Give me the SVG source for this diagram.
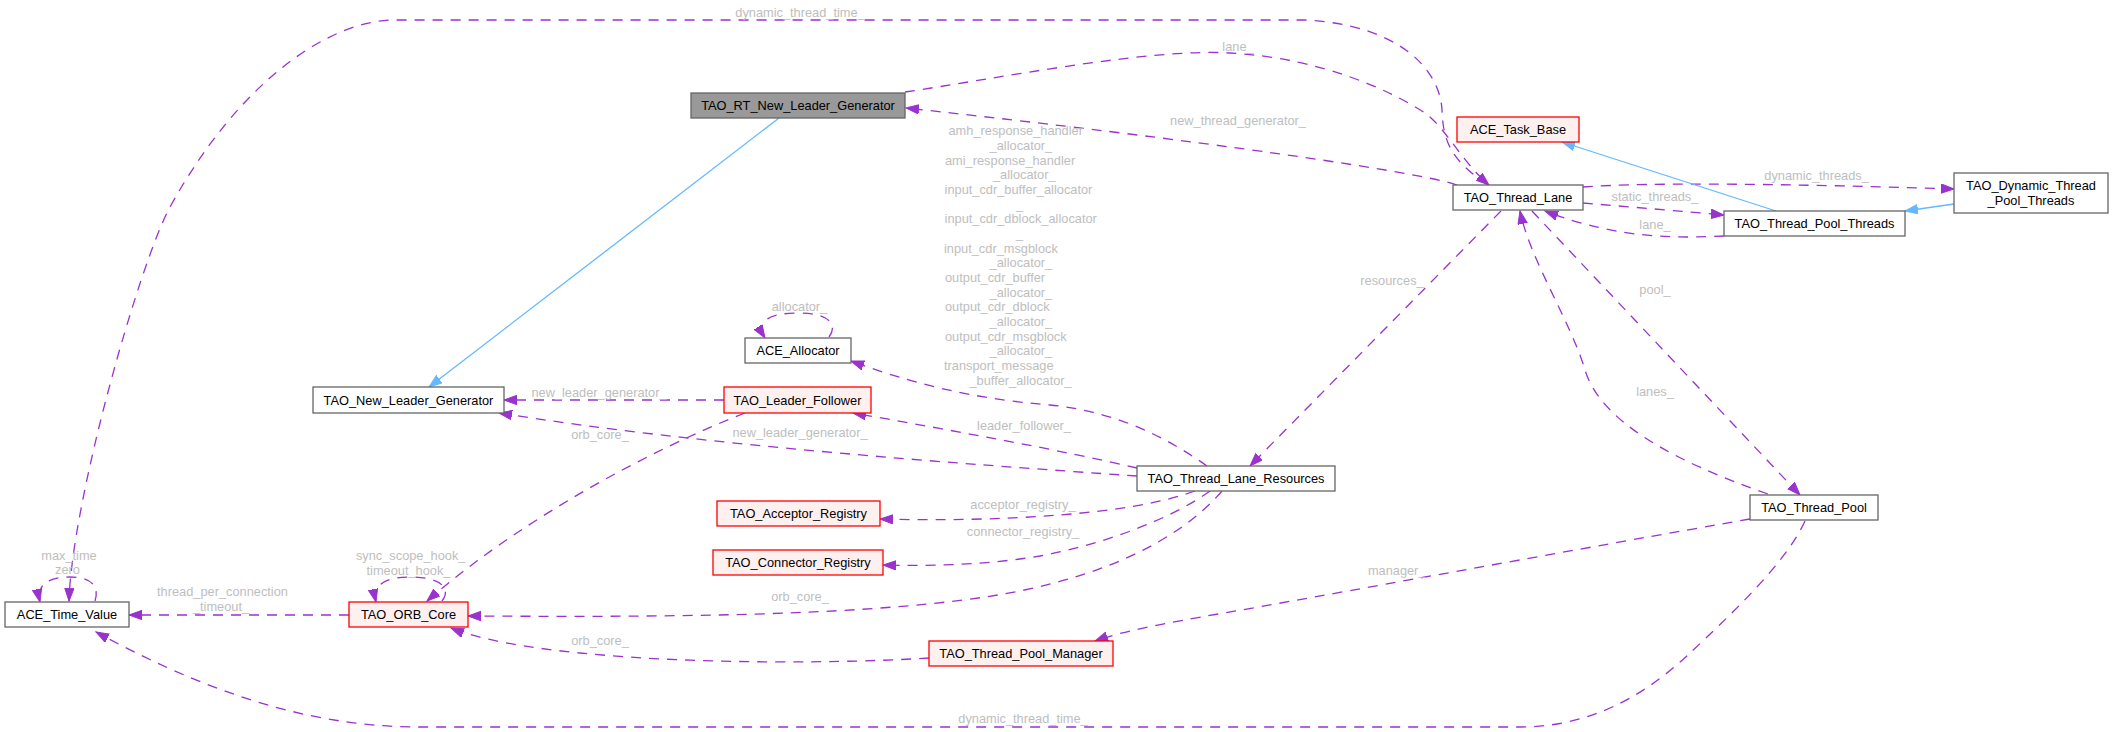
<svg xmlns="http://www.w3.org/2000/svg" width="2113" height="732" viewBox="0 0 2113 732">
<style>
.node rect{fill:#ffffff;stroke:#666666;stroke-width:1.3}
.node.red rect{fill:#fff0f0;stroke:#ff0000}
.node.gray rect{fill:#999999;stroke:#666666}
text{font-family:"Liberation Sans",Arial,Helvetica,sans-serif;font-size:12.8px}
.node text{fill:#000000;text-anchor:middle}
.lbl text{fill:#bebebe}
.lbl .c{text-anchor:middle}
.e{fill:none;stroke:#9a32cd;stroke-width:1.3;stroke-dasharray:10,8}
.b{fill:none;stroke:#63b8ff;stroke-width:1.3}
</style>
<defs>
<marker id="ap" markerUnits="userSpaceOnUse" markerWidth="15" markerHeight="11" refX="13" refY="5" orient="auto"><path d="M0,0.3 L13,5 L0,9.7 z" fill="#9a32cd" stroke="#9a32cd" stroke-width="1"/></marker>
<marker id="ab" markerUnits="userSpaceOnUse" markerWidth="15" markerHeight="11" refX="13" refY="5" orient="auto"><path d="M0,0.3 L13,5 L0,9.7 z" fill="#63b8ff" stroke="#63b8ff" stroke-width="1"/></marker>
</defs>
<rect width="2113" height="732" fill="#ffffff"/>
<g id="edges">
<path class="e" marker-end="url(#ap)" d="M1488,185 C1450,160 1443,140 1442,110 C1440,70 1400,25 1305,20 L395,20 C330,20 240,80 170,207 C140,262 72,500 69,601"/>
<path class="e" marker-end="url(#ap)" d="M905,92 C1000,78 1150,48 1230,53 C1320,58 1390,90 1425,113 C1445,127 1462,162 1489,185"/>
<path class="e" marker-end="url(#ap)" d="M1457,185 C1420,172 1200,140 906,108"/>
<path class="b" marker-end="url(#ab)" d="M779,118 L429,387"/>
<path class="e" marker-end="url(#ap)" d="M1583,187 C1650,182 1800,184 1954,189"/>
<path class="e" marker-end="url(#ap)" d="M1583,203 C1630,207 1680,211 1724,215"/>
<path class="e" marker-end="url(#ap)" d="M1724,236 C1680,238 1620,240 1545,211"/>
<path class="b" marker-end="url(#ab)" d="M1776,211 L1562,142"/>
<path class="b" marker-end="url(#ab)" d="M1954,204 L1905,211"/>
<path class="e" marker-end="url(#ap)" d="M1501,211 L1250,466"/>
<path class="e" marker-end="url(#ap)" d="M1532,211 L1800,495"/>
<path class="e" marker-end="url(#ap)" d="M1768,494 C1670,460 1600,420 1585,370 C1570,320 1530,260 1520,211"/>
<path class="e" marker-end="url(#ap)" d="M1207,466 C1170,440 1120,412 1050,405 C990,400 930,390 851,361"/>
<path class="e" marker-end="url(#ap)" d="M829,337 C838,325 830,313 798,313 C768,313 755,322 765,338"/>
<path class="e" marker-end="url(#ap)" d="M724,400 L504,400"/>
<path class="e" marker-end="url(#ap)" d="M745,413 C650,450 520,520 427,601"/>
<path class="e" marker-end="url(#ap)" d="M1137,468 C1060,450 950,430 853,413"/>
<path class="e" marker-end="url(#ap)" d="M1137,476 C950,463 700,445 499,413"/>
<path class="e" marker-end="url(#ap)" d="M1195,491 C1130,515 1000,522 880,519"/>
<path class="e" marker-end="url(#ap)" d="M1210,491 C1170,520 1100,545 1040,556 C980,566 920,566 883,565"/>
<path class="e" marker-end="url(#ap)" d="M1222,491 C1180,540 1100,580 985,597 C850,617 650,617 468,616"/>
<path class="e" marker-end="url(#ap)" d="M442,601 C452,588 440,577 410,577 C385,577 372,585 376,602"/>
<path class="e" marker-end="url(#ap)" d="M349,615 L129,615"/>
<path class="e" marker-end="url(#ap)" d="M95,601 C100,585 90,577 70,577 C48,577 36,585 40,602"/>
<path class="e" marker-end="url(#ap)" d="M929,658 C850,663 700,665 580,653 C530,648 480,640 451,628"/>
<path class="e" marker-end="url(#ap)" d="M1750,519 C1600,545 1300,600 1224,613 C1160,624 1120,632 1095,641"/>
<path class="e" marker-end="url(#ap)" d="M1805,521 C1785,565 1725,620 1690,653 C1655,686 1600,727 1520,727 L420,727 C330,727 230,705 96,632"/>
</g>
<g id="labels" class="lbl">
<text class="c" x="800" y="16.5">dynamic_thread_time_</text>
<text class="c" x="1238" y="51">lane_</text>
<text class="c" x="1238" y="124.5">new_thread_generator_</text>
<text x="948.5" y="135.2">amh_response_handler</text>
<text x="989.6" y="149.8">_allocator_</text>
<text x="945" y="164.5">ami_response_handler</text>
<text x="993" y="179.2">_allocator_</text>
<text x="944.6" y="193.8">input_cdr_buffer_allocator</text>
<text x="1016" y="208.5">_</text>
<text x="944.6" y="223.2">input_cdr_dblock_allocator</text>
<text x="1016" y="237.8">_</text>
<text x="944" y="252.5">input_cdr_msgblock</text>
<text x="989.6" y="267.2">_allocator_</text>
<text x="945" y="281.8">output_cdr_buffer</text>
<text x="989.6" y="296.5">_allocator_</text>
<text x="945" y="311.2">output_cdr_dblock</text>
<text x="989.6" y="325.8">_allocator_</text>
<text x="945" y="340.5">output_cdr_msgblock</text>
<text x="989.6" y="355.2">_allocator_</text>
<text x="944" y="369.8">transport_message</text>
<text x="969.5" y="384.5">_buffer_allocator_</text>
<text class="c" x="1816.6" y="180.2">dynamic_threads_</text>
<text class="c" x="1655" y="201.2">static_threads_</text>
<text class="c" x="1655" y="228.5">lane_</text>
<text class="c" x="1392" y="284.5">resources_</text>
<text class="c" x="1655" y="293.8">pool_</text>
<text class="c" x="1655" y="396.2">lanes_</text>
<text class="c" x="799.5" y="310.5">allocator_</text>
<text class="c" x="599" y="396.5">new_leader_generator_</text>
<text class="c" x="600" y="438.5">orb_core_</text>
<text class="c" x="800" y="436.8">new_leader_generator_</text>
<text class="c" x="1024" y="429.5">leader_follower_</text>
<text class="c" x="1023" y="508.5">acceptor_registry_</text>
<text class="c" x="1023" y="536.2">connector_registry_</text>
<text class="c" x="800" y="601.2">orb_core_</text>
<text class="c" x="1396.7" y="575.2">manager_</text>
<text class="c" x="600" y="644.5">orb_core_</text>
<text class="c" x="1023" y="722.8">dynamic_thread_time_</text>
<text class="c" x="222.5" y="596.2">thread_per_connection</text>
<text class="c" x="221" y="611.2">_timeout_</text>
<text class="c" x="410.7" y="559.5">sync_scope_hook_</text>
<text class="c" x="408.5" y="574.5">timeout_hook_</text>
<text class="c" x="69" y="559.5">max_time</text>
<text class="c" x="67.5" y="574">zero</text>
</g>
<g id="n_rt" class="node gray"><rect x="691" y="93" width="214" height="25"/><text x="798" y="110">TAO_RT_New_Leader_Generator</text></g>
<g id="n_taskbase" class="node red"><rect x="1457" y="117" width="122" height="25"/><text x="1518" y="134">ACE_Task_Base</text></g>
<g id="n_lane" class="node"><rect x="1453" y="185" width="130" height="25"/><text x="1518" y="202">TAO_Thread_Lane</text></g>
<g id="n_dyn" class="node"><rect x="1954" y="173" width="154" height="40"/><text x="2031" y="189.5">TAO_Dynamic_Thread</text><text x="2031" y="204.5">_Pool_Threads</text></g>
<g id="n_tpt" class="node"><rect x="1724" y="211" width="181" height="25"/><text x="1814.5" y="228">TAO_Thread_Pool_Threads</text></g>
<g id="n_alloc" class="node"><rect x="745" y="338" width="106" height="25"/><text x="798" y="355">ACE_Allocator</text></g>
<g id="n_nlg" class="node"><rect x="313" y="387" width="191" height="26"/><text x="408.5" y="404.5">TAO_New_Leader_Generator</text></g>
<g id="n_lf" class="node red"><rect x="724" y="387" width="147" height="26"/><text x="797.5" y="404.5">TAO_Leader_Follower</text></g>
<g id="n_tlr" class="node"><rect x="1137" y="466" width="198" height="25"/><text x="1236" y="483">TAO_Thread_Lane_Resources</text></g>
<g id="n_pool" class="node"><rect x="1750" y="495" width="128" height="25"/><text x="1814" y="512">TAO_Thread_Pool</text></g>
<g id="n_acc" class="node red"><rect x="717" y="501" width="163" height="25"/><text x="798.5" y="518">TAO_Acceptor_Registry</text></g>
<g id="n_conn" class="node red"><rect x="713" y="550" width="170" height="25"/><text x="798" y="567">TAO_Connector_Registry</text></g>
<g id="n_time" class="node"><rect x="5" y="602" width="124" height="25"/><text x="67" y="619">ACE_Time_Value</text></g>
<g id="n_orb" class="node red"><rect x="349" y="602" width="119" height="25"/><text x="408.5" y="619">TAO_ORB_Core</text></g>
<g id="n_tpm" class="node red"><rect x="929" y="641" width="184" height="25"/><text x="1021" y="658">TAO_Thread_Pool_Manager</text></g>
</svg>
